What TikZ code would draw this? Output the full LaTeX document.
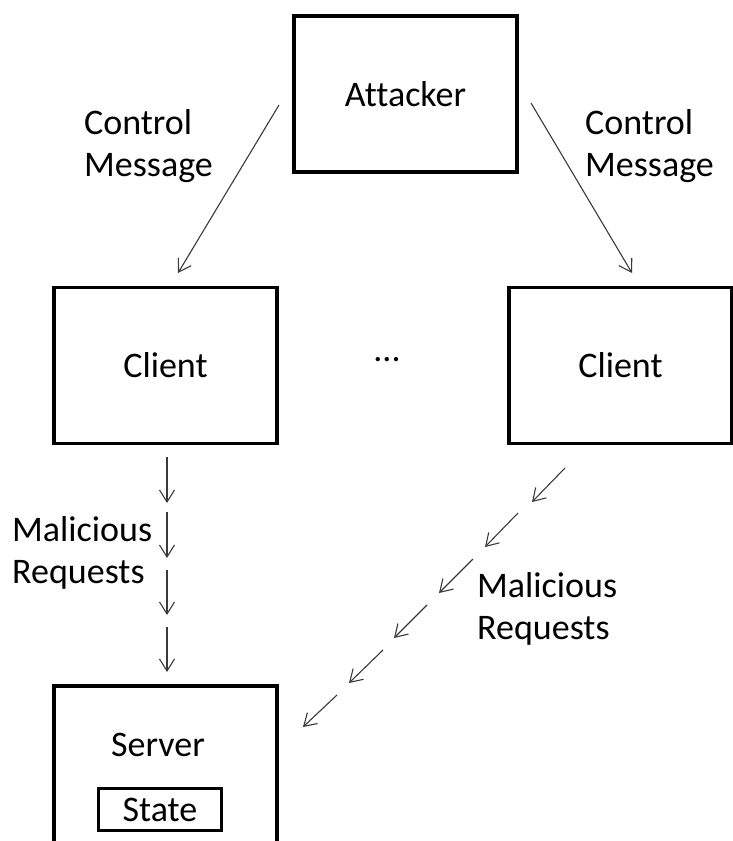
\documentclass[tikz,border=0pt]{standalone}
\usepackage{fontspec}
\setmainfont{Carlito}[Ligatures=NoCommon]
\usetikzlibrary{arrows.meta}
\definecolor{arrowgray}{HTML}{3A3A3A}
\begin{document}
\begin{tikzpicture}[x=1pt,y=-1pt,
  txt/.style={inner sep=0pt,font=\fontsize{36}{42}\selectfont},
  box/.style={txt,draw=black,line width=3.5pt,minimum width=223pt,minimum height=156pt},
  lbl/.style={txt,anchor=base west,align=left},
  flow/.style={draw=arrowgray,line width=1.1pt,
    -{Straight Barb[length=12pt,width=15pt,line width=1.1pt]}}]
\useasboundingbox (0,0) rectangle (733,841);
\clip (0,0) rectangle (733,841);

% boxes
\node[box] (attacker) at (405.5,94) {Attacker};
\node[box] (clientL) at (165.5,365.5) {Client};
\node[box] (clientR) at (620.5,365.5) {Client};
\node[box,minimum height=160pt] (server) at (165.5,766) {};
\node[txt,anchor=base] (serverlbl) at (158,756) {Server};
\node[txt,draw=black,line width=3pt,minimum width=123pt,minimum height=42pt]
  (state) at (160,809.5) {State};
\node[txt,anchor=base] (dots) at (387,361) {...};

% labels (base anchor sits on the last line)
\node[lbl] (ctlL) at (84,176) {Control\\Message};
\node[lbl] (ctlR) at (585,176) {Control\\Message};
\node[lbl] (malL) at (12,583) {Malicious\\Requests};
\node[lbl] (malR) at (477,639) {Malicious\\Requests};

% control messages from the attacker
\coordinate (cL0) at (279,105);
\coordinate (cL1) at (178,273);
\coordinate (cR0) at (531,103);
\coordinate (cR1) at (632,273);
\draw[flow] (cL0) -- (cL1);
\draw[flow] (cR0) -- (cR1);

% malicious requests, left client (vertical)
\foreach \i/\a/\b in {1/457/503,2/512/558,3/570/615,4/627/672}{
  \coordinate (vA\i) at (167,\a);
  \coordinate (vB\i) at (167,\b);
  \draw[flow] (vA\i) -- (vB\i);
}

% malicious requests, right client (diagonal)
\foreach \i/\ax/\ay/\bx/\by in {0/565/468/532/502,1/518/513/485/547,2/473/559/439/593,
  3/427/605/394/638,4/383/650/349/683,5/337/695/303/727}{
  \coordinate (sA\i) at (\ax,\ay);
  \coordinate (sB\i) at (\bx,\by);
  \draw[flow] (sA\i) -- (sB\i);
}
\end{tikzpicture}
\end{document}
